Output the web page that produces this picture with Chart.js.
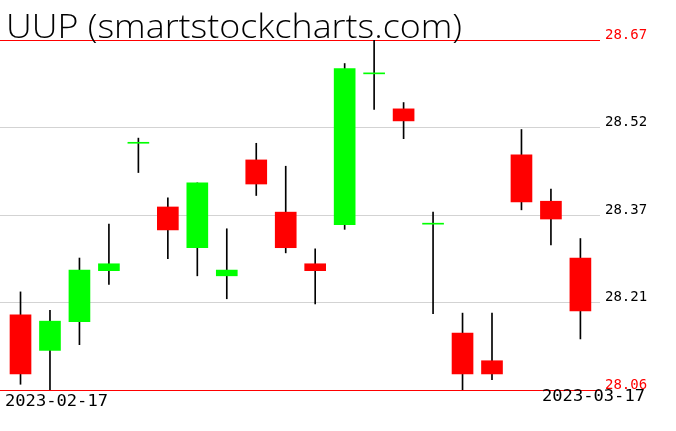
<!DOCTYPE html>
<html>
<head>
<meta charset="utf-8">
<script src="https://cdn.jsdelivr.net/npm/chart.js@4.4.0/dist/chart.umd.min.js"></script>
<style>
  body { margin: 0; background: #fff; }
  canvas { display: block; }
</style>
</head>
<body>
<canvas id="uupChart" width="676" height="431"></canvas>
<script>
// Данные свечей UUP
const title = 'UUP (smartstockcharts.com)';
const dates = ['2023-02-17', '2023-02-21', '2023-02-22', '2023-02-23', '2023-02-24',
    '2023-02-27', '2023-02-28', '2023-03-01', '2023-03-02', '2023-03-03',
    '2023-03-06', '2023-03-07', '2023-03-08', '2023-03-09', '2023-03-10',
    '2023-03-13', '2023-03-14', '2023-03-15', '2023-03-16', '2023-03-17'];
const opens  = [28.191, 28.129, 28.179, 28.268, 28.490, 28.379, 28.308, 28.259, 28.461, 28.370,
    28.280, 28.348, 28.611, 28.550, 28.349, 28.159, 28.111, 28.470, 28.389, 28.290];
const highs  = [28.231, 28.199, 28.290, 28.349, 28.499, 28.395, 28.421, 28.341, 28.490, 28.450,
    28.306, 28.629, 28.670, 28.561, 28.370, 28.194, 28.194, 28.514, 28.410, 28.324];
const lows   = [28.070, 28.060, 28.139, 28.244, 28.439, 28.289, 28.259, 28.219, 28.399, 28.299,
    28.210, 28.340, 28.549, 28.498, 28.193, 28.060, 28.078, 28.374, 28.313, 28.149];
const closes = [28.088, 28.180, 28.269, 28.280, 28.490, 28.339, 28.421, 28.269, 28.419, 28.308,
    28.268, 28.620, 28.611, 28.529, 28.349, 28.088, 28.088, 28.388, 28.358, 28.198];
const yTicks = [28.06, 28.2125, 28.365, 28.5175, 28.67];
const yTickLabels = ['28.06', '28.21', '28.37', '28.52', '28.67'];

const GREEN = '#00ff00';
const RED = '#ff0000';

const bodies = dates.map((d, i) => ({ x: i, y: [opens[i], closes[i]] }));
const wicks = dates.map((d, i) => ({ x: i, y: [lows[i], highs[i]] }));
const bodyColors = dates.map((d, i) => closes[i] >= opens[i] ? GREEN : RED);

// Текст: заголовок и даты (подогнаны по ширине)
function fitText(ctx, text, x, y, width, align) {
    const w = ctx.measureText(text).width;
    ctx.save();
    ctx.translate(align === 'right' ? x - width : x, y);
    ctx.scale(width / w, 1);
    ctx.textAlign = 'left';
    ctx.fillText(text, 0, 0);
    ctx.restore();
}

const textPlugin = {
    id: 'textPlugin',
    afterDraw(chart) {
        const ctx = chart.ctx;
        ctx.save();
        ctx.fillStyle = '#000';
        ctx.textBaseline = 'alphabetic';
        ctx.font = '300 33px "Open Sans", "DejaVu Sans", sans-serif';
        fitText(ctx, title, 6, 38, 456, 'left');
        ctx.font = '15px "DejaVu Sans Mono", monospace';
        fitText(ctx, dates[0], 5, 406, 103, 'left');
        fitText(ctx, dates[dates.length - 1], 645, 401, 103, 'right');
        ctx.restore();
    }
};

let ctx = document.getElementById('uupChart').getContext('2d');
let uupChart = new Chart(ctx, {
    type: 'bar',
    data: {
        datasets: [
            {
                label: 'body',
                data: bodies,
                backgroundColor: bodyColors,
                barThickness: 21,
                minBarLength: 1,
                grouped: false
            },
            {
                label: 'wick',
                data: wicks,
                backgroundColor: '#000',
                barThickness: 1,
                grouped: false
            }
        ]
    },
    plugins: [textPlugin],
    options: {
        responsive: false,
        animation: false,
        layout: { padding: { left: 0, right: 0, top: 40, bottom: 41 } },
        plugins: {
            legend: { display: false },
            tooltip: { enabled: false }
        },
        scales: {
            x: {
                type: 'linear',
                display: false,
                offset: false,
                min: -0.696,
                max: 19.665
            },
            y: {
                position: 'right',
                min: 28.06,
                max: 28.67,
                afterBuildTicks: scale => { scale.ticks = yTicks.map(v => ({ value: v })); },
                afterFit: scale => { scale.width = 76; },
                border: { display: false },
                grid: {
                    drawTicks: false,
                    color: c => (c.index === 0 || c.index === yTicks.length - 1) ? RED : '#d3d3d3'
                },
                ticks: {
                    padding: 5,
                    labelOffset: -5,
                    font: { family: 'DejaVu Sans Mono', size: 14 },
                    color: c => (c.index === 0 || c.index === yTicks.length - 1) ? RED : '#000',
                    callback: (v, i) => yTickLabels[i]
                }
            }
        }
    }
});
</script>
</body>
</html>
